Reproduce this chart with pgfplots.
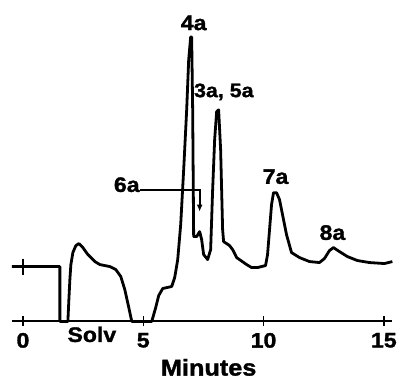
\documentclass[border=0pt]{standalone}
\usepackage{fontspec}
\setmainfont{Liberation Sans}[FakeStretch=1.1, FakeBold=1.5]
\usepackage{pgfplots}
\pgfplotsset{compat=1.18}
\usetikzlibrary{arrows.meta}
\begin{document}
\begin{tikzpicture}
\begin{axis}[
  scale only axis, width=400pt, height=378pt,
  xmin=-0.954, xmax=15.643, ymin=-56, ymax=322,
  axis x line=middle, axis y line=none,
  axis line style={draw=none},
  xtick={0,5,10,15}, ytick=\empty,
  major tick length=10pt, tick align=center,
  every tick/.style={black, line width=1.4pt},
  /pgf/number format/assume math mode=true,
  tick label style={font=\fontsize{21}{21}\selectfont\bfseries},
  xticklabel style={yshift=-3pt},
  xlabel={Minutes},
  xlabel style={at={(axis cs:7.718,-46)}, anchor=center, font=\fontsize{23}{23}\selectfont\bfseries},
  clip=false,
]
\path[use as bounding box] (rel axis cs:0,0) rectangle (rel axis cs:1,1);
% baseline
\addplot[black, line width=2pt] coordinates {(-0.456,0) (15.353,0)};
% chromatogram trace
\addplot[black, line width=2.8pt, line join=round] coordinates {
(-0.456,55) (1.535,55) (1.535,0) (1.867,0) (1.909,22) (1.950,42) (1.992,57)
(2.075,69) (2.199,76) (2.324,78) (2.490,74) (2.697,67) (2.988,60) (3.195,57)
(3.610,55) (3.859,52) (4.066,45) (4.232,32) (4.398,14) (4.523,0)
(5.353,0) (5.519,14) (5.643,26) (5.809,33) (6.183,35) (6.307,44) (6.432,62)
(6.556,97) (6.680,152) (6.805,212) (6.888,262) (6.971,285) (7.012,285)
(7.054,212) (7.095,85) (7.220,85) (7.344,90) (7.427,82) (7.510,67) (7.676,62)
(7.801,72) (7.884,132) (7.967,182) (8.050,210) (8.133,212) (8.216,172)
(8.299,92) (8.340,80) (8.589,76) (8.714,72) (8.880,64) (9.295,57) (9.502,54)
(9.751,54) (10.083,56) (10.166,67) (10.249,92) (10.332,117) (10.415,129)
(10.539,129) (10.664,122) (10.788,107) (10.954,87) (11.162,69) (11.494,64)
(11.909,60) (12.324,59) (12.531,63) (12.739,71) (12.905,74) (13.154,70)
(13.485,65) (13.900,61) (14.398,59) (15.021,58) (15.353,60)
};
% start marker
\addplot[black, only marks, mark=+, mark size=8pt, mark options={line width=2pt}] coordinates {(0,55)};
% arrow to 6a
\addplot[black, line width=2.2pt, -{Latex[length=7pt,width=6pt]}] coordinates {(4.855,132) (7.344,132) (7.344,110)};
\begin{scope}[every node/.style={font=\fontsize{21}{21}\selectfont\bfseries}]
\node at (axis cs:7.095,299) {4a};
\node[font=\fontsize{19.5}{19.5}\selectfont\bfseries] at (axis cs:8.35,230) {3a, 5a};
\node at (axis cs:4.315,137) {6a};
\node at (axis cs:10.498,145) {7a};
\node at (axis cs:12.863,89) {8a};
\node[font=\fontsize{21}{21}\selectfont\bfseries] at (axis cs:2.863,-13) {Solv};
\end{scope}
\end{axis}
\end{tikzpicture}
\end{document}
